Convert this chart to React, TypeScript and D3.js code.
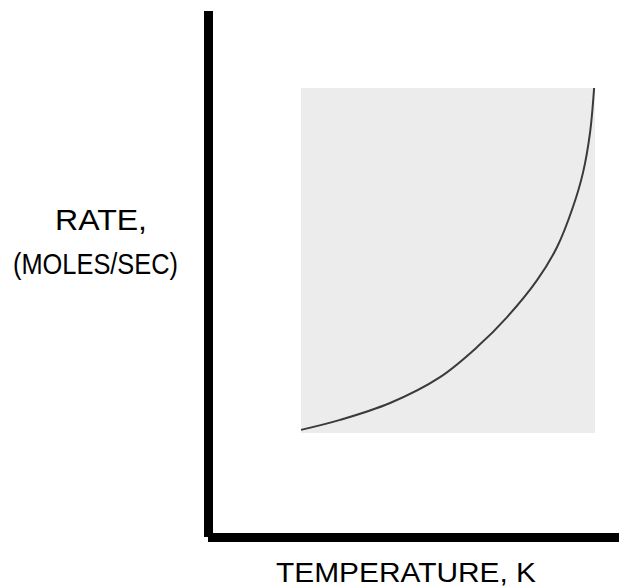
import { useMemo } from "react";
import * as d3 from "d3";

// curve (arbitrary units, 0..100 on both axes)
const temperature = [0, 13.3, 30.3, 47.3, 59.9, 70.1, 80.3, 87.1, 92.5, 95.9, 98.3, 99.7];
const rate = [0.9, 3.8, 8.7, 16.2, 24.9, 33.6, 44.3, 53.9, 65.5, 75.4, 87.0, 100];

const xLabel = "TEMPERATURE, K";
const yLabel1 = "RATE,";
const yLabel2 = "(MOLES/SEC)";

const W = 619;
const H = 588;

const App = () => {
  // plot panel (the gray box the curve sits in)
  const panel = { left: 301, right: 595, top: 88, bottom: 433 };
  const axisX = 208.5; // vertical axis centre
  const axisY = 537.5; // horizontal axis centre

  const x = d3.scaleLinear().domain([0, 100]).range([panel.left, panel.right]);
  const y = d3.scaleLinear().domain([0, 100]).range([panel.bottom, panel.top]);

  const path = useMemo(() => {
    const pts: [number, number][] = temperature.map((t, i) => [t, rate[i]]);
    return d3
      .line<[number, number]>()
      .x((d) => x(d[0]))
      .y((d) => y(d[1]))
      .curve(d3.curveCatmullRom.alpha(0.5))(pts);
  }, []);

  return (
    <svg
      width={W}
      height={H}
      style={{ position: "absolute", left: 0, top: 0, background: "#fff" }}
      fontFamily="'Liberation Sans', Arial, sans-serif"
    >
      {/* gray panel */}
      <rect
        x={x(0)}
        y={y(100)}
        width={x(100) - x(0)}
        height={y(0) - y(100)}
        fill="#ececec"
      />
      {/* curve */}
      <path d={path || ""} fill="none" stroke="#3a3a3a" strokeWidth={2} />

      {/* thick axes */}
      <line x1={axisX} x2={axisX} y1={11} y2={537} stroke="#000" strokeWidth={9} />
      <line x1={208} x2={W} y1={axisY} y2={axisY} stroke="#000" strokeWidth={9} />

      {/* labels */}
      <text
        x={276}
        y={582}
        fontSize={27}
        textLength={260}
        lengthAdjust="spacingAndGlyphs"
        fill="#000"
      >
        {xLabel}
      </text>
      <text
        x={55}
        y={230}
        fontSize={29}
        textLength={92}
        lengthAdjust="spacingAndGlyphs"
        fill="#000"
      >
        {yLabel1}
      </text>
      <text
        x={13}
        y={274}
        fontSize={30}
        textLength={165}
        lengthAdjust="spacingAndGlyphs"
        fill="#000"
      >
        {yLabel2}
      </text>
    </svg>
  );
};

export default App;
